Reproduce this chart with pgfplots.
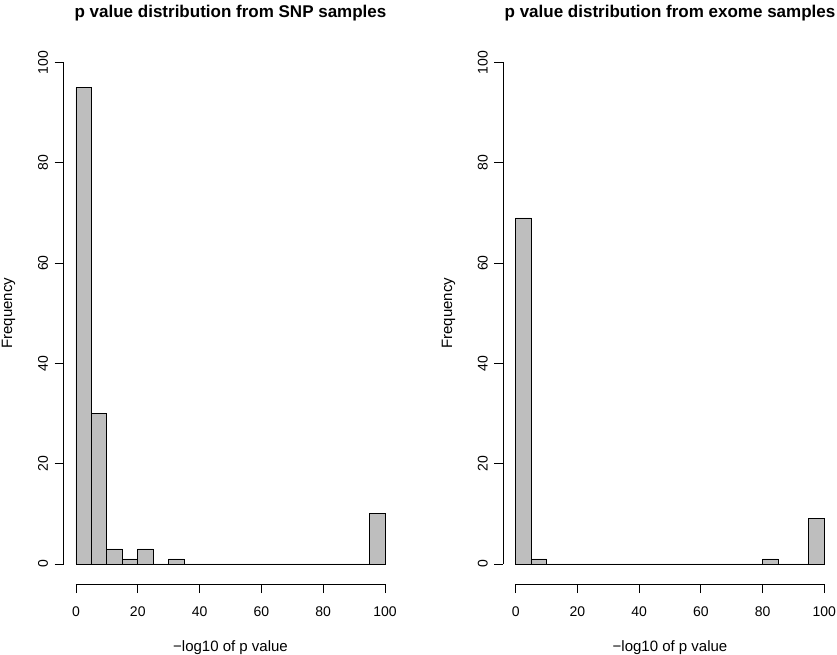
\documentclass[border=0pt]{standalone}
\usepackage{fontspec}
\setmainfont{Liberation Sans}
\usepackage{pgfplots}
\pgfplotsset{compat=1.18}
\usetikzlibrary{calc}
\definecolor{bargray}{RGB}{190,190,190}
\pgfplotsset{
  rhist/.style={
    scale only axis,
    width=333.8pt, height=541.6pt,
    xmin=-4, xmax=104, ymin=-4, ymax=104,
    axis x line*=bottom, axis y line*=left,
    axis line style={draw=none},
    clip=false,
    xtick={0,20,40,60,80,100},
    ytick={0,20,40,60,80,100},
    tick align=outside,
    major tick length=9pt,
    tick style={black, line width=0.8pt},
    /pgf/number format/assume math mode=true,
    ticklabel style={font=\fontsize{14}{16}\selectfont},
    xticklabel style={yshift=-10pt},
    yticklabel style={rotate=90, anchor=south},
    yticklabel shift=3pt,
    xlabel={−log10 of p value},
    label style={font=\fontsize{15}{17}\selectfont},
    xlabel style={at={(rel axis cs:0.5,0)}, anchor=center, yshift=-64pt},
    title style={at={(rel axis cs:0.5,1)}, anchor=center, yshift=23pt, font=\bfseries\fontsize{17}{20}\selectfont},
  }
}
\begin{document}
\begin{tikzpicture}[x=1pt,y=1pt]
\useasboundingbox (0,0) rectangle (837,654);
\begin{axis}[rhist, at={(63.6pt,70pt)}, anchor=south west,
  title={p value distribution from SNP samples}]
\draw[black, line width=0.8pt] (axis cs:0,-4) -- (axis cs:100,-4);
\draw[black, line width=0.8pt] (axis cs:-4,0) -- (axis cs:-4,100);
\node[rotate=90, anchor=center, font=\fontsize{15}{17}\selectfont] at ($(rel axis cs:0,0.5)+(-55pt,0pt)$) {Frequency};
\addplot[ybar interval, fill=bargray, draw=black, line width=0.8pt] coordinates {
(0,95) (5,30) (10,3) (15,1) (20,3) (25,0) (30,1) (35,0) (40,0) (45,0) (50,0)
(55,0) (60,0) (65,0) (70,0) (75,0) (80,0) (85,0) (90,0) (95,10) (100,10)};
\end{axis}
\begin{axis}[rhist, at={(503.4pt,70pt)}, anchor=south west, width=333.2pt,
  title={p value distribution from exome samples}]
\draw[black, line width=0.8pt] (axis cs:0,-4) -- (axis cs:100,-4);
\draw[black, line width=0.8pt] (axis cs:-4,0) -- (axis cs:-4,100);
\node[rotate=90, anchor=center, font=\fontsize{15}{17}\selectfont] at ($(rel axis cs:0,0.5)+(-55pt,0pt)$) {Frequency};
\addplot[ybar interval, fill=bargray, draw=black, line width=0.8pt] coordinates {
(0,69) (5,1) (10,0) (15,0) (20,0) (25,0) (30,0) (35,0) (40,0) (45,0) (50,0)
(55,0) (60,0) (65,0) (70,0) (75,0) (80,1) (85,0) (90,0) (95,9) (100,9)};
\end{axis}
\end{tikzpicture}
\end{document}
